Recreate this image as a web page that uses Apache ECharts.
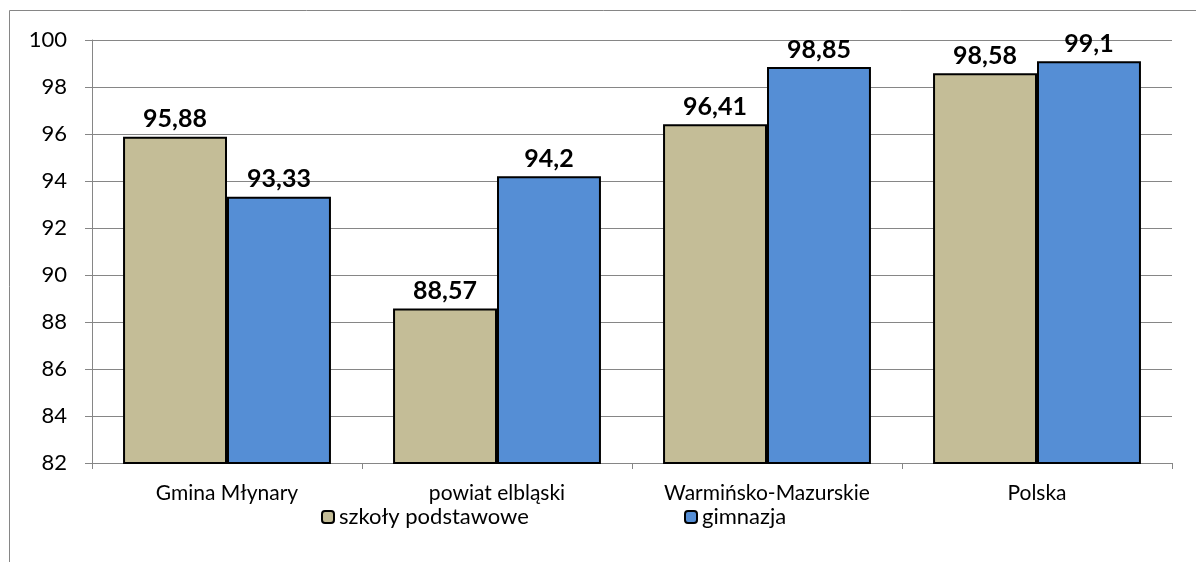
<!DOCTYPE html>
<html><head><meta charset="utf-8">
<script src="https://cdn.jsdelivr.net/npm/echarts@6/dist/echarts.min.js"></script>
<style>html,body{margin:0;padding:0;background:#fff}#c{width:1196px;height:562px}</style>
</head><body><div id="c"></div>
<script>
const categories = ['Gmina Młynary', 'powiat elbląski', 'Warmińsko-Mazurskie', 'Polska'];
const seriesNames = ['szkoły podstawowe', 'gimnazja'];
const szkolyPodstawowe = [95.88, 88.57, 96.41, 98.58];
const gimnazja = [93.33, 94.2, 98.85, 99.1];
const yTicks = [82, 84, 86, 88, 90, 92, 94, 96, 98, 100];

const font = 'Lato, "Open Sans", sans-serif';
const chart = echarts.init(document.getElementById('c'));
const fmt = p => String(p.value).replace('.', ',');
const labelCfg = {show: true, position: 'top', distance: 5, formatter: fmt, color: '#000', fontSize: 25, fontWeight: 'bold', fontFamily: font};
const legendText = {fontSize: 22, fontFamily: font, color: '#000'};
chart.setOption({
  animation: false,
  backgroundColor: '#fff',
  graphic: [{type: 'rect', shape: {x: 9.5, y: 10.5, width: 1300, height: 700}, style: {fill: 'none', stroke: '#868686', lineWidth: 1}}],
  grid: {left: 92, right: 24, top: 40, bottom: 99},
  legend: [
    {data: [seriesNames[0]], left: 316, top: 501, itemWidth: 12, itemHeight: 12, itemGap: 3, textStyle: legendText,
     itemStyle: {borderColor: '#000', borderWidth: 2}},
    {data: [seriesNames[1]], left: 679, top: 501, itemWidth: 12, itemHeight: 12, itemGap: 3, textStyle: legendText,
     itemStyle: {borderColor: '#000', borderWidth: 2}}
  ],
  xAxis: {
    type: 'category', data: categories,
    axisLine: {lineStyle: {color: '#868686', width: 1}},
    axisTick: {show: true, length: 6, lineStyle: {color: '#868686'}},
    axisLabel: {color: '#000', fontSize: 21, fontFamily: font, margin: 20}
  },
  yAxis: {
    type: 'value', min: yTicks[0], max: yTicks[yTicks.length - 1], interval: 2,
    axisLine: {show: true, lineStyle: {color: '#868686'}},
    axisTick: {show: true, length: 7, lineStyle: {color: '#868686'}},
    splitLine: {lineStyle: {color: '#868686', width: 1}},
    axisLabel: {color: '#000', fontSize: 22, fontFamily: font, margin: 25}
  },
  series: [
    {name: seriesNames[0], type: 'bar', data: szkolyPodstawowe, barGap: '0%', barCategoryGap: '23%',
     itemStyle: {color: '#C4BD97', borderColor: '#000', borderWidth: 2}, label: labelCfg},
    {name: seriesNames[1], type: 'bar', data: gimnazja,
     itemStyle: {color: '#558ED5', borderColor: '#000', borderWidth: 2}, label: labelCfg}
  ]
});
</script></body></html>
